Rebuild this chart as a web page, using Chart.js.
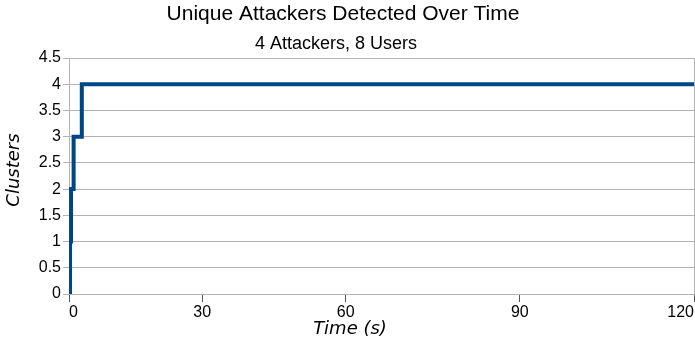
<!DOCTYPE html>
<html lang="en">

<head>
    <meta charset="UTF-8">
    <title>Unique Attackers Detected Over Time</title>
    <script src="https://cdn.jsdelivr.net/npm/chart.js"></script>
    <style>
        html, body { margin: 0; padding: 0; background: #ffffff; }
        #wrap { width: 695px; height: 342px; }
    </style>
</head>

<body>
    <div id="wrap">
        <canvas id="chartClusters"></canvas>
    </div>
</body>

<script>
    // samples along the x axis (rows of the sheet), and the time shown at some of them
    const tickSample = [0, 13, 27, 44, 61];
    const tickTime = [0, 30, 60, 90, 120];
    const lastSample = 61;

    // detected clusters: sample where the count changes and the new count
    const stepSample = [0.1, 0.1, 0.2, 0.45, 1.25, 61];
    const clusters = [0, 1, 2, 3, 4, 4];

    const yTicks = [0, 0.5, 1, 1.5, 2, 2.5, 3, 3.5, 4, 4.5];

    const tituloTexto = "Unique Attackers Detected Over Time";
    const subtituloTexto = "4 Attackers, 8 Users";
    const tituloX = "Time (s)";
    const tituloY = "Clusters";

    const gridGray = "#b3b3b3";
    const lineBlue = "#004586";

    const pontos = stepSample.map((s, i) => ({ x: s, y: clusters[i] }));

    // titles are centred on the whole picture, not on the plot area, so they are drawn here
    const titulos = {
        id: "titulos",
        afterDraw(chart) {
            const ctx = chart.ctx;
            ctx.save();
            ctx.fillStyle = "#000000";
            ctx.textAlign = "center";
            ctx.textBaseline = "middle";

            ctx.font = "21px 'Liberation Sans'";
            ctx.fillText(tituloTexto, 343, 14);
            ctx.font = "18px 'Liberation Sans'";
            ctx.fillText(subtituloTexto, 336, 44);

            ctx.font = "italic 18px 'DejaVu Sans'";
            ctx.fillText(tituloX, 350, 329);

            ctx.translate(14, 170);
            ctx.rotate(-Math.PI / 2);
            ctx.fillText(tituloY, 0, 0);
            ctx.restore();
        },
    };

    new Chart(document.getElementById("chartClusters"), {
        type: "line",
        data: {
            datasets: [{
                label: "Clusters",
                data: pontos,
                borderColor: lineBlue,
                borderWidth: 4,
                pointRadius: 0,
                stepped: true,
                fill: false,
            }],
        },
        plugins: [titulos],
        options: {
            responsive: true,
            maintainAspectRatio: false,
            animation: false,
            layout: { padding: { top: 58, right: 0, bottom: 0, left: 0 } },
            plugins: {
                legend: { display: false },
                tooltip: { enabled: false },
                title: { display: false },
                subtitle: { display: false },
            },
            scales: {
                x: {
                    type: "linear",
                    min: 0,
                    max: lastSample,
                    afterBuildTicks: (scale) => {
                        scale.ticks = tickSample.map(v => ({ value: v }));
                    },
                    afterFit: (scale) => { scale.height = 48; },
                    ticks: {
                        align: "inner",
                        maxRotation: 0,
                        padding: 1,
                        color: "#000000",
                        font: { family: "Liberation Sans", size: 16 },
                        callback: (v) => {
                            const i = tickSample.indexOf(v);
                            return i >= 0 ? String(tickTime[i]) : "";
                        },
                    },
                    grid: {
                        color: (ctx) => ctx.index === tickSample.length - 1 ? gridGray : "rgba(0,0,0,0)",
                        tickColor: "#555555",
                        tickLength: 8,
                        drawOnChartArea: true,
                    },
                    border: { color: gridGray },
                    title: { display: false },
                },
                y: {
                    min: 0,
                    max: 4.5,
                    afterBuildTicks: (scale) => {
                        scale.ticks = yTicks.map(v => ({ value: v }));
                    },
                    afterFit: (scale) => { scale.width = 69; },
                    ticks: {
                        padding: 2,
                        color: "#000000",
                        font: { family: "Liberation Sans", size: 16 },
                        callback: (v) => String(v),
                    },
                    grid: {
                        color: gridGray,
                        tickColor: gridGray,
                        tickLength: 6,
                    },
                    border: { color: gridGray },
                    title: { display: false },
                },
            },
        },
    });
</script>

</html>
